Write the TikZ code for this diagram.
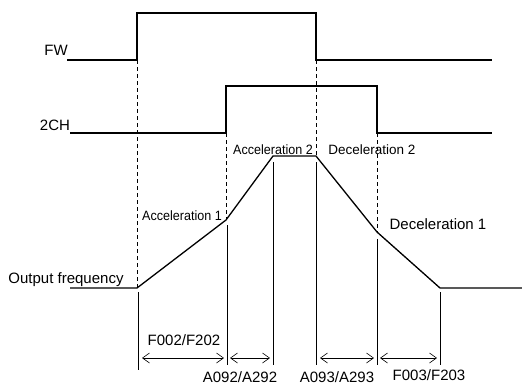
\documentclass[tikz,border=0pt]{standalone}
\usepackage{fontspec}
\setmainfont{Liberation Sans}
\usetikzlibrary{arrows.meta}

\begin{document}
\begin{tikzpicture}[
    x=1pt, y=-1pt,
    % jelalakok vastag vonallal
    signal/.style={line width=1.3pt, line join=miter},
    % szaggatott segedvonalak
    guide/.style={line width=0.5pt, dash pattern=on 4pt off 3pt},
    marker/.style={line width=0.6pt},
    % idointervallum nyilak
    span/.style={line width=0.6pt, {Straight Barb[length=7pt,width=10pt]}-{Straight Barb[length=7pt,width=10pt]}},
    lbl/.style={font=\fontsize{15}{17}\selectfont, anchor=base, inner sep=0pt},
    slbl/.style={font=\fontsize{13.5}{16}\selectfont, anchor=base, inner sep=0pt, xscale=0.93}
]
    \useasboundingbox (0,0) rectangle (522,384);

    % FW jel
    \coordinate (F0) at (67,60);
    \coordinate (F1) at (137,60);
    \coordinate (F2) at (137,13);
    \coordinate (F3) at (316,13);
    \coordinate (F4) at (316,60);
    \coordinate (F5) at (492,60);
    \draw[signal] (F0) -- (F1) -- (F2) -- (F3) -- (F4) -- (F5);

    % 2CH jel
    \coordinate (C0) at (70,133);
    \coordinate (C1) at (226,133);
    \coordinate (C2) at (226,86);
    \coordinate (C3) at (377,86);
    \coordinate (C4) at (377,133);
    \coordinate (C5) at (492,133);
    \draw[signal] (C0) -- (C1) -- (C2) -- (C3) -- (C4) -- (C5);

    % kimeneti frekvencia
    \coordinate (O0) at (70,288);
    \coordinate (O1) at (137,288);
    \coordinate (O2) at (226,220);
    \coordinate (O3) at (273,156);
    \coordinate (O4) at (316,156);
    \coordinate (O5) at (377,232);
    \coordinate (O6) at (440,288);
    \coordinate (O7) at (522,288);
    \draw[signal] (O0) -- (O1) -- (O2) -- (O3) -- (O4) -- (O5) -- (O6) -- (O7);

    % szaggatott vonalak
    \draw[guide] (F1) -- (O1);
    \draw[guide] (C1) -- (O2);
    \draw[guide] (F4) -- (O4);
    \draw[guide] (C4) -- (O5);

    % fuggoleges hatarvonalak
    \coordinate (M1t) at (138,292);  \coordinate (M1b) at (138,370);
    \coordinate (M2t) at (227,225);  \coordinate (M2b) at (227,365);
    \coordinate (M3t) at (273,162);  \coordinate (M3b) at (273,365);
    \coordinate (M4t) at (316,162);  \coordinate (M4b) at (316,365);
    \coordinate (M5t) at (377,239);  \coordinate (M5b) at (377,365);
    \coordinate (M6t) at (440,292);  \coordinate (M6b) at (440,365);
    \draw[marker] (M1t) -- (M1b);
    \draw[marker] (M2t) -- (M2b);
    \draw[marker] (M3t) -- (M3b);
    \draw[marker] (M4t) -- (M4b);
    \draw[marker] (M5t) -- (M5b);
    \draw[marker] (M6t) -- (M6b);

    % nyilak
    \coordinate (S1a) at (142,358); \coordinate (S1b) at (224,358);
    \coordinate (S2a) at (230,358); \coordinate (S2b) at (270,358);
    \coordinate (S3a) at (320,358); \coordinate (S3b) at (374,358);
    \coordinate (S4a) at (380,358); \coordinate (S4b) at (437,358);
    \draw[span] (S1a) -- (S1b);
    \draw[span] (S2a) -- (S2b);
    \draw[span] (S3a) -- (S3b);
    \draw[span] (S4a) -- (S4b);

    % feliratok
    \node[lbl] (fw) at (56,55) {FW};
    \node[lbl] (ch) at (55,130) {2CH};
    \node[lbl] (out) at (66,283) {Output frequency};
    \node[slbl] (acc1) at (182,220) {Acceleration 1};
    \node[slbl] (acc2) at (273,154) {Acceleration 2};
    \node[slbl, xscale=1.075] (dec2) at (372,154) {Deceleration 2};
    \node[lbl] (dec1) at (438,229) {Deceleration 1};
    \node[lbl] (t1) at (184,345) {F002/F202};
    \node[lbl] (t2) at (240,382) {A092/A292};
    \node[lbl] (t3) at (337,382) {A093/A293};
    \node[lbl] (t4) at (429,380) {F003/F203};
\end{tikzpicture}
\end{document}
